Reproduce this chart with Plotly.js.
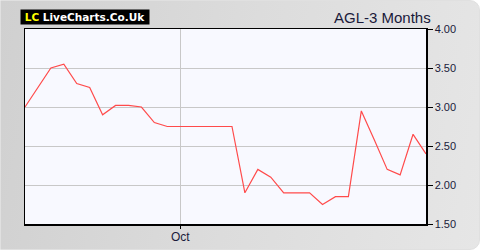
<!DOCTYPE html>
<html>
<head>
<meta charset="utf-8">
<script src="https://cdn.plot.ly/plotly-3.0.1.min.js"></script>
<style>
html,body{margin:0;padding:0;background:#ffffff;}
#wrap{position:absolute;left:0;top:0;width:478px;height:248px;border:1px solid #e0e0e0;border-radius:0 10px 10px 0;
background:linear-gradient(100deg,#d0d0d0 0%,#dcdcdc 50%,#e6e6e6 100%);overflow:hidden;}
#chart{position:absolute;left:-1px;top:-1px;width:480px;height:250px;}
</style>
</head>
<body>
<div id="wrap"><div id="chart"></div></div>
<script>
const xIndex = [0, 2, 3, 4, 5, 6, 7, 8, 9, 10, 11, 12, 13, 14, 15, 16, 17, 18, 19, 20, 21, 22, 23, 24, 25, 26, 27, 28, 29, 30, 31];
const prices = [3.00, 3.50, 3.55, 3.30, 3.25, 2.90, 3.02, 3.02, 3.00, 2.80, 2.75, 2.75, 2.75, 2.75, 2.75, 2.75, 1.90, 2.20, 2.10, 1.90, 1.90, 1.90, 1.75, 1.85, 1.85, 2.95, 2.58, 2.20, 2.13, 2.65, 2.40];
const xTickVals = [12];
const xTickText = ["Oct"];
const yTickVals = [1.5, 2.0, 2.5, 3.0, 3.5, 4.0];
const chartTitle = "AGL-3 Months";

const trace = {
  x: xIndex, y: prices, type: 'scatter', mode: 'lines',
  line: {color: '#ff4b4b', width: 1.2},
  hoverinfo: 'none'
};
const layout = {
  width: 480, height: 250,
  margin: {l: 25, r: 54, t: 29, b: 26},
  paper_bgcolor: 'rgba(0,0,0,0)',
  plot_bgcolor: '#f8f9ff',
  showlegend: false,
  font: {family: 'Liberation Sans, Arial, sans-serif', size: 12, color: '#1a1a3a'},
  xaxis: {
    range: [0, 31], tickmode: 'array', tickvals: xTickVals, ticktext: xTickText,
    showgrid: true, gridcolor: '#c8c8c8', gridwidth: 1,
    showline: true, linecolor: '#000', linewidth: 1.5, mirror: true,
    ticks: 'outside', ticklen: 3, tickcolor: '#000',
    tickfont: {size: 12, color: '#1a1a3a'}, zeroline: false, fixedrange: true,
    ticklabelstandoff: -2
  },
  yaxis: {
    range: [1.5, 4.0], side: 'right', tickmode: 'array', tickvals: yTickVals,
    tickformat: '.2f',
    showgrid: true, gridcolor: '#c8c8c8', gridwidth: 1,
    showline: true, linecolor: '#000', linewidth: 1.5, mirror: true,
    ticks: 'outside', ticklen: 5, tickcolor: '#000',
    tickfont: {size: 11, color: '#1a1a3a'}, zeroline: false, fixedrange: true
  },
  annotations: [
    {xref: 'paper', yref: 'paper', x: 1.0, y: 1.0, xanchor: 'right', yanchor: 'bottom', yshift: 1, xshift: 7,
     text: chartTitle, showarrow: false, font: {size: 15, color: '#1a1a3a'}},
    {xref: 'paper', yref: 'paper', x: -0.012, y: 1.0, xanchor: 'left', yanchor: 'bottom', yshift: 4,
     text: '<b><span style="color:#ffff00">LC</span> LiveCharts.Co.Uk</b>', showarrow: false,
     bgcolor: '#000000', borderpad: 1, width: 126, height: 12, align: 'center',
     font: {family: 'DejaVu Sans, sans-serif', size: 10.5, color: '#ffffff'}}
  ]
};
Plotly.newPlot('chart', [trace], layout, {staticPlot: true, displayModeBar: false});
</script>
</body>
</html>
